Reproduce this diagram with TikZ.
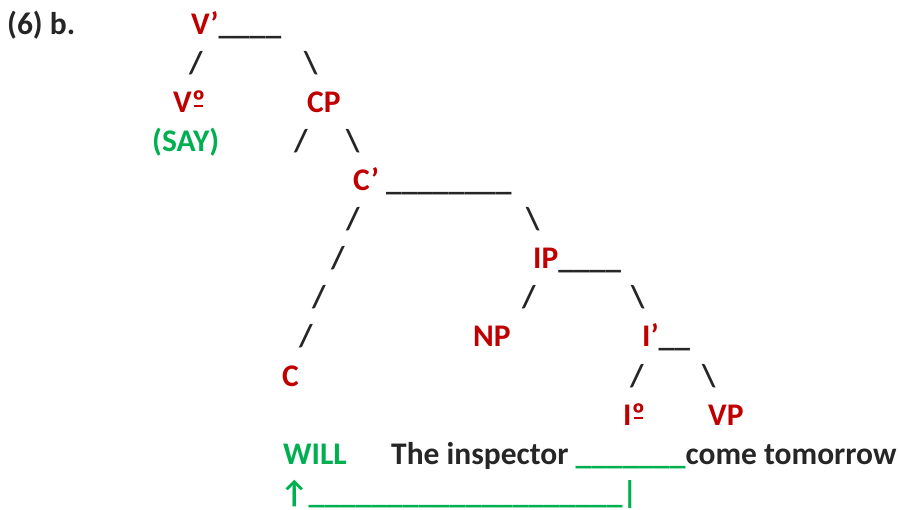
\documentclass[tikz,border=0pt]{standalone}
\usepackage{fontspec}
\setmainfont{Carlito}
\usepackage{tikz}

\definecolor{treered}{RGB}{192,0,0}
\definecolor{treegreen}{RGB}{0,176,80}
\definecolor{treeink}{RGB}{38,38,38}

% underlined ordinal sign, as in V-zero and I-zero
\newcommand{\ordo}{\ooalign{º\cr\hfil\rule[0.18em]{0.3em}{0.065em}\hfil\cr}}

\begin{document}
\begin{tikzpicture}[x=1pt,y=-1pt,
	every node/.style={font=\fontsize{31.5}{39}\selectfont\bfseries,
		inner sep=0pt,anchor=base west,text=treeink},
	cat/.style={text=treered},
	gloss/.style={text=treegreen}]
	\useasboundingbox (0,0) rectangle (899,510);
	% heading and V'
	\node (label) at (7,35) {(6) b.};
	\node (vbar) at (191,35) {\textcolor{treered}{V’}\_\_\_\_};
	\node (vbarl) at (189,74) {/};
	\node (vbarr) at (304,74) {\textbackslash};
	\node[cat] (v0) at (173,113) {V\ordo};
	\node[cat] (cp) at (307,113) {CP};
	\node[gloss] (say) at (152,152) {(SAY)};
	\node (cpl) at (294,152) {/};
	\node (cpr) at (346,152) {\textbackslash};
	% C' and its long left branch
	\node (cbar) at (353,191) {\textcolor{treered}{C’} \_\_\_\_\_\_\_\_};
	\node (cbarl1) at (346,230) {/};
	\node (cbarr) at (526,230) {\textbackslash};
	\node (cbarl2) at (331,269) {/};
	\node (ip) at (533,269) {\textcolor{treered}{IP}\_\_\_\_};
	\node (cbarl3) at (312,308) {/};
	\node (ipl) at (522,308) {/};
	\node (ipr) at (631,308) {\textbackslash};
	\node (cbarl4) at (299,347) {/};
	\node[cat] (np) at (473,347) {NP};
	\node (ibar) at (642,347) {\textcolor{treered}{I’}\_\_};
	\node[cat] (c) at (282,386) {C};
	\node (ibarl) at (630,386) {/};
	\node (ibarr) at (702,386) {\textbackslash};
	\node[cat] (i0) at (623,425) {I\ordo};
	\node[cat] (vp) at (708,425) {VP};
	% sentence and movement
	\node[gloss] (will) at (283,464) {WILL};
	\node (sent) at (391,464) {The inspector \textcolor{treegreen}{\_\_\_\_\_\_\_}come tomorrow};
	\node[gloss] (move) at (280,503) {↑\_\_\_\_\_\_\_\_\_\_\_\_\_\_\_\_\_\_\_\_|};
\end{tikzpicture}
\end{document}
